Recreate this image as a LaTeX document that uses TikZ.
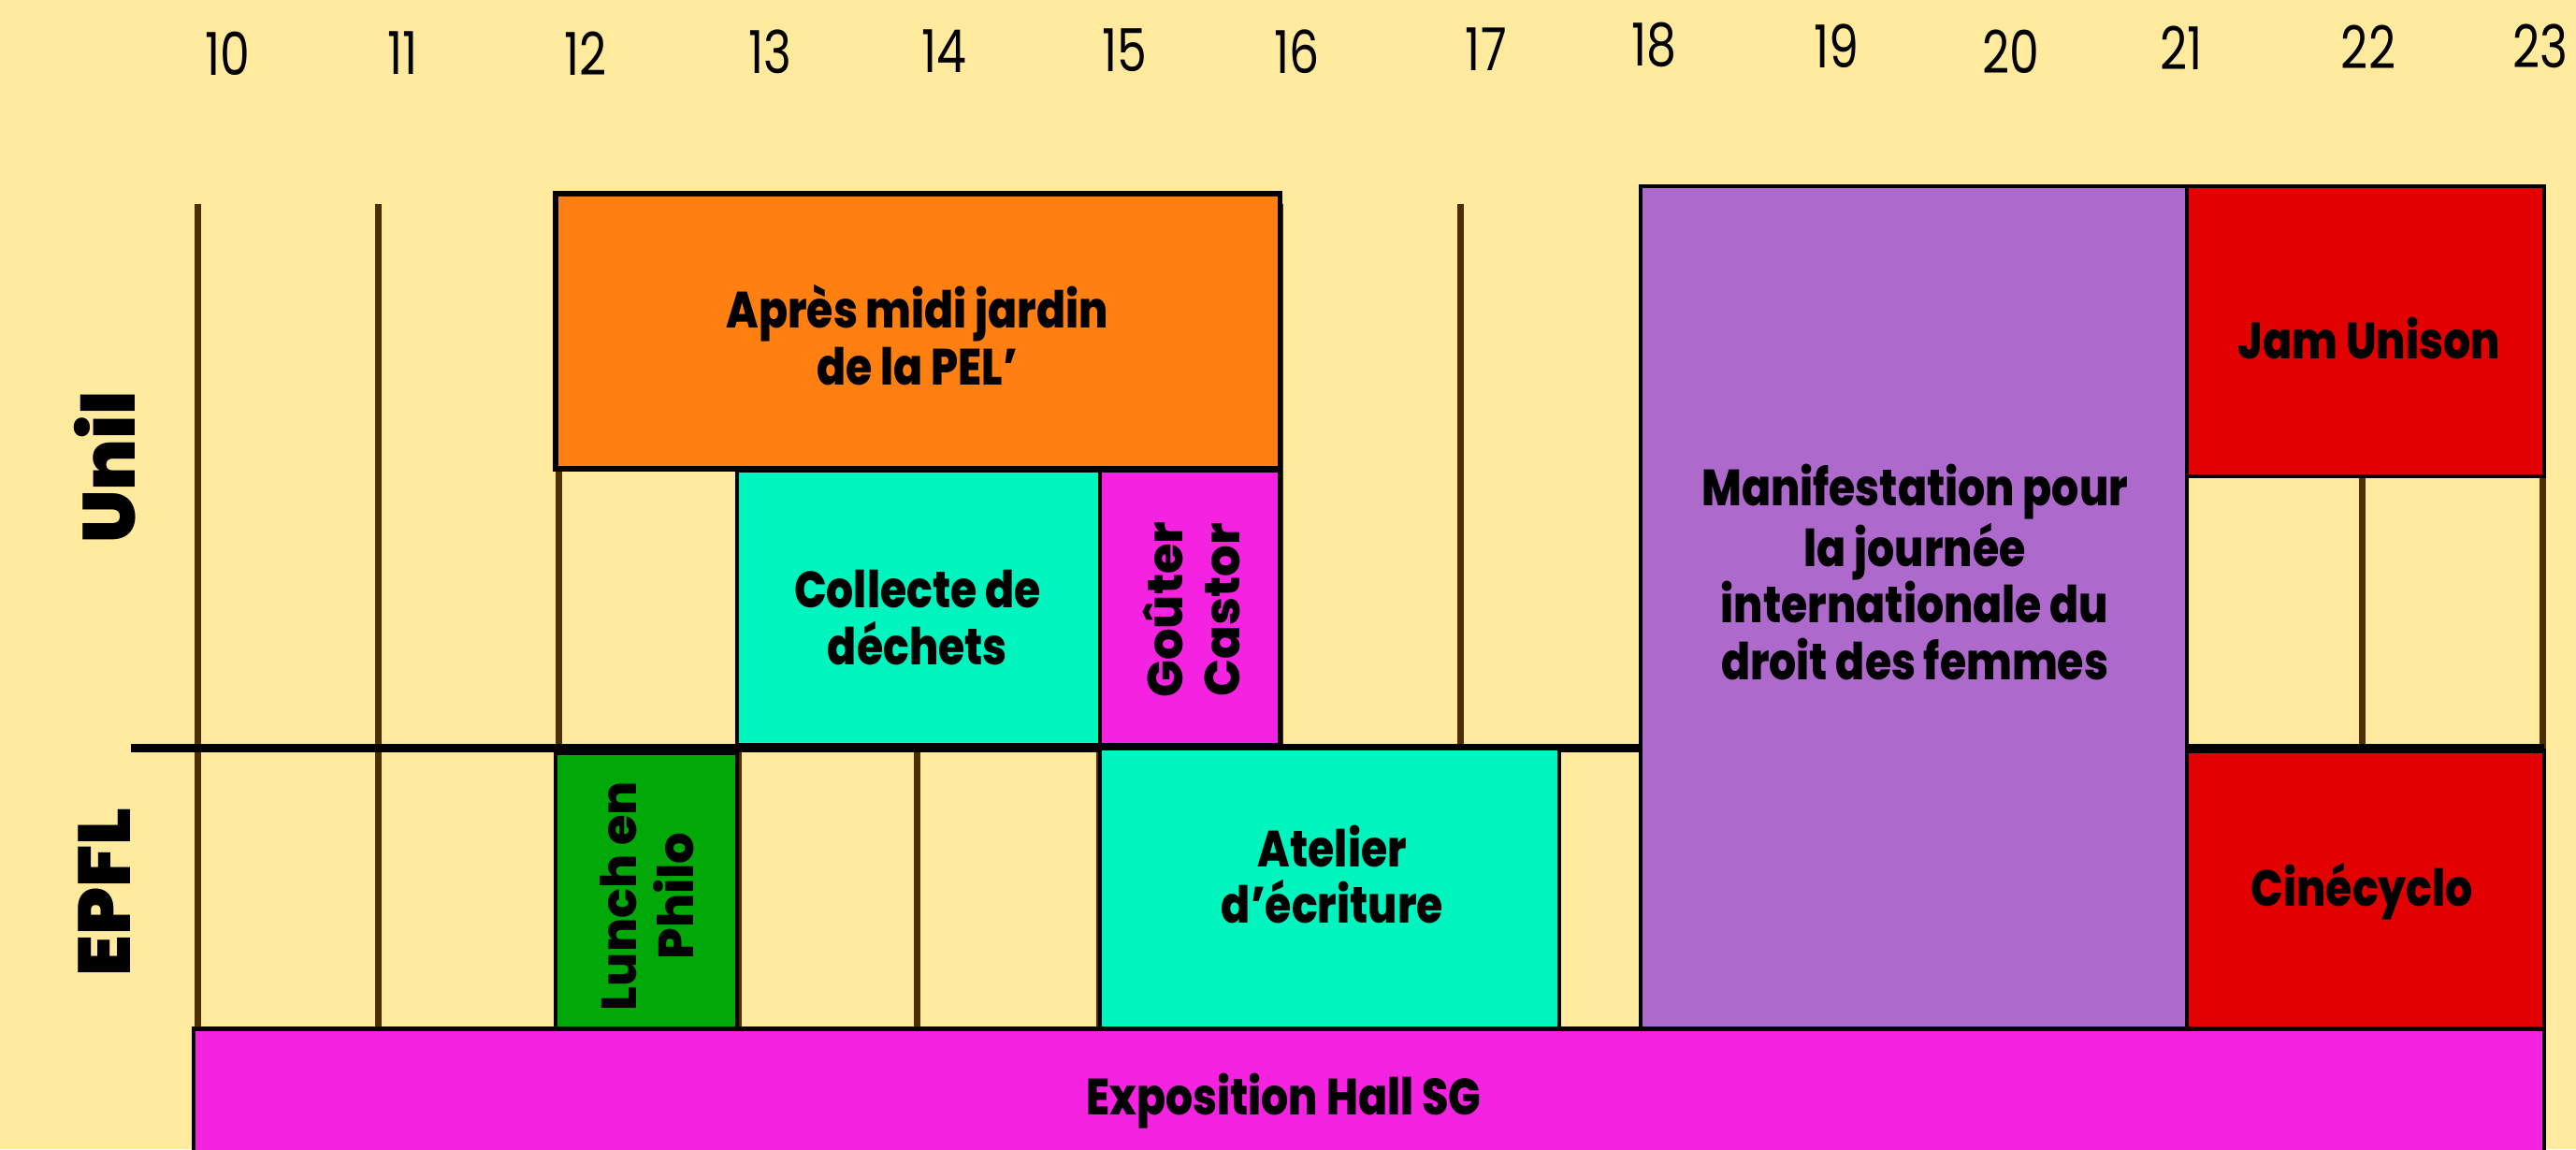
\documentclass[tikz,border=0pt]{standalone}
\usepackage{fontspec}
\setmainfont{Poppins}
\newfontfamily\hourfont[FakeStretch=0.8]{Poppins}
\newfontfamily\boxfont[FakeStretch=0.84]{Poppins ExtraBold}
\newfontfamily\sidefont{Poppins ExtraBold}
\newfontfamily\headfont{Poppins Black}
\definecolor{fond}{RGB}{255,234,158}
\definecolor{brun}{RGB}{80,45,2}
\definecolor{orangebox}{RGB}{255,128,16}
\definecolor{tealbox}{RGB}{0,245,190}
\definecolor{rosebox}{RGB}{245,35,225}
\definecolor{vertbox}{RGB}{0,168,8}
\definecolor{violetbox}{RGB}{173,105,203}
\definecolor{rougebox}{RGB}{227,0,0}
\tikzset{
	hourlab/.style={font=\hourfont\fontsize{18}{20}\selectfont, inner sep=0pt},
	hourline/.style={line width=2pt, color=brun},
	slot/.style={draw=black, line width=1.2pt},
	evlabel/.style={font=\boxfont\fontsize{15.5}{17.3}\selectfont, align=center, inner sep=0pt},
	sidelabel/.style={font=\sidefont\fontsize{15}{17.3}\selectfont, align=center, rotate=90, inner sep=0pt},
	sidehead/.style={font=\headfont\fontsize{22.4}{26}\selectfont, rotate=90, inner sep=0pt}
}

\begin{document}
\begin{tikzpicture}[x=1.928cm, y=-0.01cm]
			%%%%% START %%%%%
			
			\useasboundingbox (8.9025, 0) rectangle (23.1867, 1229);
			\clip (8.9025, 0) rectangle (23.1867, 1229);
			\fill[color=fond] (8.9025, 0) rectangle (23.1867, 1229);
			
			\node[hourlab] (h10) at (10.163, 57) {10};
			\node[hourlab] (h11) at (11.137, 57) {11};
			\node[hourlab] (h12) at (12.151, 57) {12};
			\node[hourlab] (h13) at (13.175, 55) {13};
			\node[hourlab] (h14) at (14.136, 55) {14};
			\node[hourlab] (h15) at (15.140, 54) {15};
			\node[hourlab] (h16) at (16.094, 55) {16};
			\node[hourlab] (h17) at (17.143, 53) {17};
			\node[hourlab] (h18) at (18.073, 48) {18};
			\node[hourlab] (h19) at (19.084, 49) {19};
			\node[hourlab] (h20) at (20.054, 55) {20};
			\node[hourlab] (h21) at (21.000, 51) {21};
			\node[hourlab] (h22) at (22.035, 50) {22};
			\node[hourlab] (h23) at (22.990, 49) {23};
			
			\draw[hourline] (10, 218) -- (10, 1100);
			\draw[hourline] (11, 218) -- (11, 1100);
			\draw[hourline] (12, 218) -- (12, 1100);
			\draw[hourline] (12.995, 218) -- (12.995, 1100);
			\draw[hourline] (13.99, 218) -- (13.99, 1100);
			\draw[hourline] (15, 218) -- (15, 1100);
			\draw[hourline] (16, 218) -- (16, 1100);
			\draw[hourline] (17, 218) -- (17, 1100);
			\draw[hourline] (22, 218) -- (22, 1100);
			\draw[hourline] (23, 218) -- (23, 1100);
			
			\draw[line width=2.4pt] (9.629, 800) -- (23.01, 800);
			
			\node[sidehead] (unil) at (9.4835, 500) {Unil};
			\node[sidehead] (epfl) at (9.4810, 954) {EPFL};
			
			% Unil
			\draw[slot, fill=orangebox, line width=1.6pt] (11.982, 207) rectangle (16, 501);
			\node[evlabel] (apres) at (13.99, 358) {Après midi jardin\\de la PEL’};
			
			\draw[slot, fill=tealbox] (12.99, 503) rectangle (15, 797);
			\node[evlabel] (collecte) at (13.99, 660) {Collecte de\\déchets};
			
			\draw[slot, fill=rosebox] (15, 503) rectangle (16, 797);
			\node[sidelabel] (gouter) at (15.51, 652) {Goûter\\Castor};
			
			\draw[slot, fill=rougebox] (21.03, 199) rectangle (23.01, 509);
			\node[evlabel] (jam) at (22.04, 362) {Jam Unison};
			
			% EPFL
			\draw[slot, fill=vertbox] (11.982, 805) rectangle (12.99, 1100);
			\node[sidelabel] (lunch) at (12.49, 958) {Lunch en\\Philo};
			
			\draw[slot, fill=tealbox] (15, 800) rectangle (17.55, 1100);
			\node[evlabel] (atelier) at (16.29, 935) {Atelier\\d’écriture};
			
			\draw[slot, fill=rougebox] (21.03, 803) rectangle (23.01, 1100);
			\node[evlabel] (cine) at (22.0, 953) {Cinécyclo};
			
			% both
			\draw[slot, fill=violetbox] (17.998, 199) rectangle (21.03, 1100);
			\node[evlabel] (manif) at (19.52, 612) {Manifestation pour\\la journée\\internationale du\\droit des femmes};
			
			\draw[slot, fill=rosebox] (9.976, 1100) rectangle (23.01, 1262);
			\node[evlabel] (expo) at (16.02, 1177) {Exposition Hall SG};
			
			%%%%% END %%%%%
		\end{tikzpicture}
\end{document}
